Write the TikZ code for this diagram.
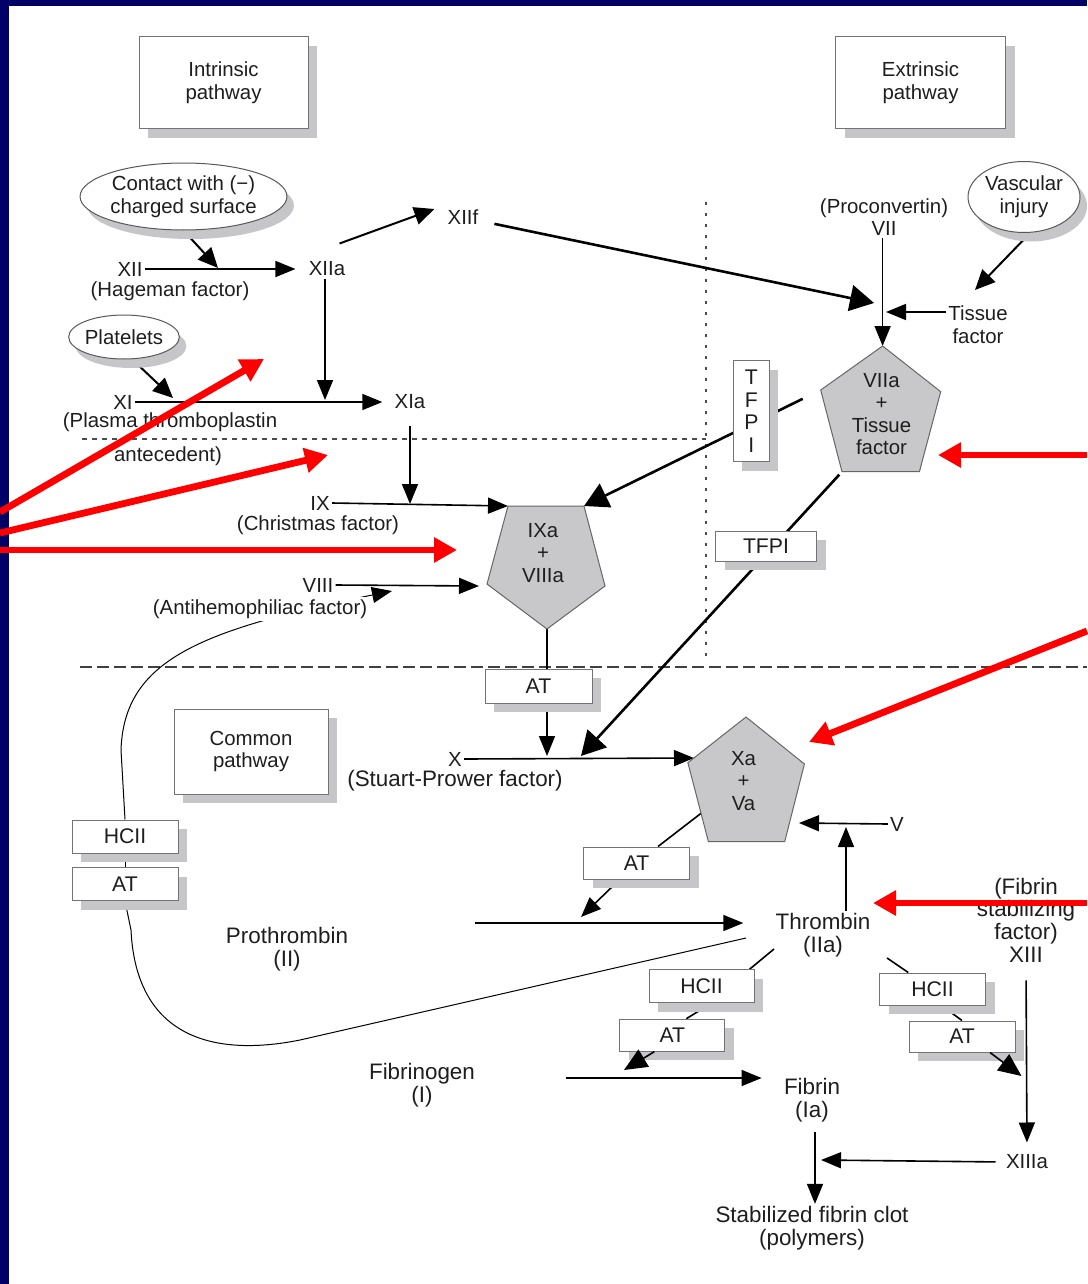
\documentclass[tikz,border=0pt]{standalone}
\usepackage{fontspec}
\setmainfont{Liberation Sans}
\usetikzlibrary{arrows.meta,shapes.geometric,shadows}
\pgfdeclarelayer{paper}
\pgfdeclarelayer{wires}
\pgfsetlayers{paper,wires,main}
\definecolor{navyband}{RGB}{0,0,102}
\definecolor{cplxgray}{RGB}{200,200,202}
\definecolor{shadegray}{RGB}{198,198,200}
\definecolor{inkgray}{RGB}{30,30,30}

\begin{document}
\begin{tikzpicture}[x=0.5pt, y=-0.5pt,
  lbl/.style={font=\fontsize{10.2}{11.3}\selectfont, text=inkgray, align=center, inner sep=1pt},
  biglbl/.style={font=\fontsize{11.2}{11.3}\selectfont, text=inkgray, align=center, inner sep=1pt},
  boxshadow/.style={drop shadow={shadow xshift=4.5pt, shadow yshift=-4.5pt, fill=shadegray, opacity=1}},
  pathbox/.style={lbl, draw=black!55, line width=0.5pt, fill=white, boxshadow},
  inhib/.style={pathbox, font=\fontsize{10.6}{11.25}\selectfont, inner sep=0pt},
  trigger/.style={lbl, ellipse, draw=black!65, line width=0.5pt, fill=white, inner sep=0pt,
    drop shadow={shadow xshift=3.5pt, shadow yshift=-4.5pt, fill=shadegray, opacity=1}},
  cplx/.style={draw=black!60, line width=0.5pt, fill=cplxgray},
  link/.style={line width=0.8pt},
  arr/.style={line width=0.8pt, -{Triangle[length=10pt,width=8pt]}},
  medarr/.style={line width=1pt, -{Triangle[length=10pt,width=9pt]}},
  bigarr/.style={line width=1.3pt, -{Triangle[length=12pt,width=13pt]}},
  curvy/.style={line width=0.5pt},
  redarr/.style={draw=red, line width=3.4pt, -{Triangle[length=11.5pt,width=12pt]}}
]
% slide background
\begin{pgfonlayer}{paper}
  \fill[white] (0,0) rectangle (1087,1284);
  \fill[navyband] (0,0) rectangle (1087,6);
  \fill[navyband] (0,0) rectangle (9,1284);
\end{pgfonlayer}
\useasboundingbox (0,0) rectangle (1087,1284);

% pathway boxes
\node[pathbox, minimum width=84.5pt, minimum height=46pt] (intrinsic) at (223.5,83) {Intrinsic\\pathway};
\node[pathbox, minimum width=85pt, minimum height=46pt] (extrinsic) at (920.5,83) {Extrinsic\\pathway};
\node[pathbox, minimum width=77pt, minimum height=42.5pt] (common) at (251,751.5) {Common\\pathway};

% triggers
\node[trigger, minimum width=102pt, minimum height=33.5pt] (contact) at (183.5,196.5) {Contact with (−)\\charged surface};
\node[trigger, minimum width=48.5pt, minimum height=22pt] (platelets) at (124,337) {Platelets};
\node[trigger, minimum width=56pt, minimum height=35.5pt] (vascular) at (1024,197) {Vascular\\injury};

% factors
\node[lbl] (xii) at (130,269) {XII};
\node[lbl] (hageman) at (170,291) {(Hageman factor)};
\node[lbl] (xiia) at (327,269) {XIIa};
\node[lbl] (xiif) at (463,217) {XIIf};
\node[lbl] (xi) at (123,402) {XI};
\node[lbl] (plasma) at (170,422) {(Plasma thromboplastin};
\node[lbl] (antecedent) at (168,456) {antecedent)};
\node[lbl] (xia) at (410,402) {XIa};
\node[lbl] (ix) at (320,503) {IX};
\node[lbl] (christmas) at (318,525) {(Christmas factor)};
\node[lbl] (viii) at (318,585) {VIII};
\node[lbl, fill=white] (antihemo) at (260,609) {(Antihemophiliac factor)};
\node[lbl] (vii) at (884,217) {(Proconvertin)\\VII};
\node[lbl] (tissue) at (978,325) {Tissue\\factor};
\node[lbl] (fx) at (455,759) {X};
\node[biglbl] (stuart) at (455,781) {(Stuart-Prower factor)};
\node[lbl] (fv) at (897,824) {V};
\node[biglbl] (prothrombin) at (287,949) {Prothrombin\\(II)};
\node[biglbl] (thrombin) at (823,935) {Thrombin\\(IIa)};
\node[biglbl] (xiii) at (1026,920) {(Fibrin\\stabilizing\\factor)\\XIII};
\node[biglbl] (fibrinogen) at (422,1085) {Fibrinogen\\(I)};
\node[biglbl] (fibrin) at (812,1100) {Fibrin\\(Ia)};
\node[lbl] (xiiia) at (1027,1162) {XIIIa};
\node[biglbl] (clot) at (812,1228) {Stabilized fibrin clot\\(polymers)};

% complexes
\draw[cplx] (882.6,346) coordinate (viia-t) -- (940.7,391.7) -- (919.4,471.7) -- (842,471.7) coordinate (viia-bl) -- (820.7,390) coordinate (viia-l) -- cycle;
\node[lbl] (viia) at (881.5,414) {VIIa\\+\\Tissue\\factor};
\draw[cplx] (508,506) coordinate (ixa-tl) -- (584,506) coordinate (ixa-tr) -- (605,586) -- (547,629) coordinate (ixa-b) -- (487,584) -- cycle;
\node[lbl] (ixa) at (543,553) {IXa\\+\\VIIIa};
\draw[cplx] (746,717) -- (804.4,764) -- (784.7,841.7) -- (708.4,841.7) -- (687.9,762.7) -- cycle;
\node[lbl] (xa) at (743.5,781) {Xa\\+\\Va};

% inhibitors
\node[inhib, minimum width=53.5pt, minimum height=17pt] (at1) at (538.5,686) {AT};
\node[inhib, minimum width=18pt, minimum height=50.5pt] (tfpiv) at (751.4,411.2) {T\\F\\P\\I};
\node[inhib, minimum width=50.5pt, minimum height=15pt] (tfpih) at (766,546) {TFPI};
\node[inhib, minimum width=53pt, minimum height=16.5pt] (hciil) at (125,836.5) {HCII};
\node[inhib, minimum width=53pt, minimum height=16.5pt] (atl) at (125,884) {AT};
\node[inhib, minimum width=53pt, minimum height=16pt] (at2) at (636.6,863) {AT};
\node[inhib, minimum width=52.5pt, minimum height=16.5pt] (hcii3) at (701.5,986.3) {HCII};
\node[inhib, minimum width=52.5pt, minimum height=16pt] (at3) at (672.3,1035.2) {AT};
\node[inhib, minimum width=53pt, minimum height=16pt] (hcii4) at (932.5,989) {HCII};
\node[inhib, minimum width=53pt, minimum height=15.5pt] (at4) at (962,1036.5) {AT};

% junctions on the reaction lines
\coordinate (xiijoin) at (218,268);
\coordinate (xijoin) at (173,398);
\coordinate (xiiajoin) at (325,400);
\coordinate (ixjoin) at (410,504);
\coordinate (viijoin) at (886,312);
\coordinate (tfhit) at (975,290);
\coordinate (xiifhit) at (874,303);
\coordinate (ixa-in) at (479,586);
\coordinate (xjoinat) at (547,756);
\coordinate (xjointf) at (581,756);
\coordinate (xa-in) at (694,758);
\coordinate (xa-out) at (704,811);
\coordinate (xa-r) at (799,823);
\coordinate (vjoin) at (846,827);
\coordinate (projoin) at (581,917);
\coordinate (prostart) at (475,923);
\coordinate (fgnstart) at (566,1078);
\coordinate (fgnjoin) at (624,1070);
\coordinate (xiiijoin) at (1021.5,1076);
\coordinate (fibjoin) at (821,1160);
\coordinate (thr-l) at (774,949);
\coordinate (thr-r) at (887,958);
\coordinate (thr-end) at (746,938);

\begin{pgfonlayer}{wires}
  % separators
  \draw[line width=0.6pt, black!70, dash pattern=on 1.5pt off 4pt] (706,202) -- (706,660);
  \draw[line width=0.6pt, black!70, dash pattern=on 2.5pt off 2.5pt] (82,439) -- (706,439);
  \draw[line width=0.9pt, black!75, dash pattern=on 6pt off 2.5pt] (80,667) -- (1087,667);
  % intrinsic
  \draw[medarr] (contact.south) -- (xiijoin);
  \draw[arr, shorten >=5.5pt] (xii.east) -- (xiia.west);
  \draw[medarr] ([shift={(-4pt,8pt)}]xiia.north east) -- ([shift={(-5.5pt,4pt)}]xiif.west);
  \draw[bigarr, shorten <=7pt] ([yshift=-2pt]xiif.east) -- (xiifhit);
  \draw[medarr] (platelets.-70) -- (xijoin);
  \draw[arr, shorten >=5pt] (xi.east) -- (xia.west);
  \draw[arr] (xiiajoin |- xiia.south) -- (xiiajoin);
  \draw[arr, shorten <=7pt] (xia.south) -- (ixjoin);
  \draw[arr] (ix.east) -- (ixa-tl);
  \draw[arr] (viii.east) -- (ixa-in);
  % extrinsic
  \draw[arr] (viia-t |- vii.south) -- (viia-t);
  \draw[arr] (tissue.west |- viijoin) -- (viijoin);
  \draw[medarr] (vascular.-80) -- (tfhit);
  \draw[bigarr, shorten <=10pt] (viia-l) -- (ixa-tr);
  \draw[bigarr, shorten <=2pt] (viia-bl) -- (xjointf);
  % common
  \draw[link] (ixa-b) -- (ixa-b |- at1.north);
  \draw[arr] (ixa-b |- at1.south) -- (xjoinat);
  \draw[arr] (fx.east) -- (xa-in);
  \draw[link] (xa-out) -- (at2);
  \draw[arr] (at2) -- (projoin);
  \draw[arr, shorten >=15pt] (prostart) -- (thrombin.west |- prostart);
  \draw[arr] ([xshift=11.5pt]thrombin.north) -- (vjoin);
  \draw[arr] (fv.west) -- (xa-r);
  \draw[link] (thr-l) -- ([xshift=-2.5pt]hcii3.north east);
  \draw[link] ([xshift=5pt]hcii3.south) -- ([xshift=7pt]at3.north);
  \draw[link] (thr-r) -- (hcii4);
  \draw[link] ([xshift=4.5pt]hcii4.south) -- (at4.north);
  \draw[arr, shorten <=8pt, shorten >=5pt] (xiii.south) -- (xiiia.north);
  \draw[arr, shorten <=4pt] (xiiia.west) -- (fibjoin);
  \draw[arr, shorten >=10pt] (fgnstart) -- (fibrin.west |- fgnstart);
  \draw[arr, shorten <=4pt] ([xshift=1.5pt]fibrin.south) -- ([xshift=1.5pt]clot.north);
  % heparin cofactor / antithrombin loop
  \draw[curvy, -{Triangle[length=10pt,width=8pt]}] (hciil.north) -- (121,750) .. controls (124,660) and (200,630) .. (392,591);
  \draw[curvy] (hciil.south) -- (atl.north);
  \draw[curvy] (atl.south) -- (131,930) .. controls (136,1035) and (210,1058) .. (300,1040) -- (thr-end);
\end{pgfonlayer}

% inhibitor arrows leaving the shadows
\draw[line width=0.8pt, -{Triangle[length=11.5pt,width=10pt]}] ([xshift=-9pt]at3.south) -- (fgnjoin);
\draw[line width=0.8pt, -{Triangle[length=11.5pt,width=10pt]}] ([xshift=14pt]at4.south) -- (xiiijoin);

% red pointers
\foreach \n/\sx/\sy/\tx/\ty in {1/0/512/264/359, 2/0/533/328/455, 3/0/550/457/550,
    4/1087/455/938/455, 5/1087/631/809/742, 6/1087/903/873/903} {
  \coordinate (redtail\n) at (\sx,\sy);
  \coordinate (redtip\n) at (\tx,\ty);
  \draw[redarr] (redtail\n) -- (redtip\n);
}
\end{tikzpicture}
\end{document}
